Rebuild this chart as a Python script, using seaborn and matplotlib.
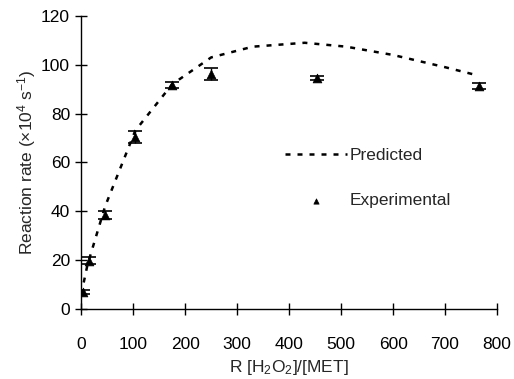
import numpy as np
import pandas as pd
import matplotlib
matplotlib.use("Agg")
import matplotlib.pyplot as plt
import seaborn as sns

# data
exp_r = [3, 15, 46, 104, 175, 250, 453, 765]
exp_rate = [7, 19.7, 38.5, 70.3, 91.8, 96.2, 94.4, 91.3]
exp_err = [0.8, 1.5, 1.5, 2.5, 1.2, 2.5, 0.8, 1.2]

pred_r = [0, 12, 46, 104, 175, 250, 330, 430, 510, 600, 700, 765]
pred_rate = [6, 18, 42, 73, 92, 103, 107.4, 109, 107.4, 104, 99, 95.5]

sns.set_style("ticks")
plt.rcParams["font.family"] = ["Liberation Sans", "DejaVu Sans"]
plt.rcParams["mathtext.default"] = "regular"

fig, ax = plt.subplots(figsize=(5.14, 3.79), dpi=100)
fig.subplots_adjust(left=0.158, right=0.967, bottom=0.185, top=0.958)

pred = pd.DataFrame({"R": pred_r, "rate": pred_rate})
exp = pd.DataFrame({"R": exp_r, "rate": exp_rate, "err": exp_err})

sns.lineplot(data=pred, x="R", y="rate", ax=ax, color="black", linewidth=1.8,
             linestyle=(0, (2.0, 2.8)), label="Predicted")
ax.errorbar(exp["R"], exp["rate"], yerr=exp["err"], fmt="none", ecolor="black",
            elinewidth=1, capsize=5, capthick=1.2)
sns.scatterplot(data=exp, x="R", y="rate", ax=ax, marker="^", color="black",
                s=40, edgecolor="black", label="Experimental")

ax.set_xlim(0, 800)
ax.set_ylim(0, 120)
ax.set_xticks(np.arange(0, 801, 100))
ax.set_yticks(np.arange(0, 121, 20))
ax.tick_params(direction="inout", length=9, width=1, labelsize=12.5, colors="black")
ax.tick_params(axis="x", pad=16)
for s in ["top", "right"]:
    ax.spines[s].set_visible(False)
for s in ["left", "bottom"]:
    ax.spines[s].set_color("black")
    ax.spines[s].set_linewidth(1)

ax.set_xlabel("R [H$_2$O$_2$]/[MET]", fontsize=12.5, labelpad=4)
ax.set_ylabel("Reaction rate (×10$^4$ s$^{-1}$)", fontsize=12.5, labelpad=2)

ax.legend(loc="upper left", bbox_to_anchor=(0.49, 0.55), frameon=False,
          fontsize=12.5, handlelength=3.6, labelspacing=1.75, borderpad=0,
          borderaxespad=0, handletextpad=0.1, markerscale=0.6)

fig.savefig("out.png", dpi=100)
